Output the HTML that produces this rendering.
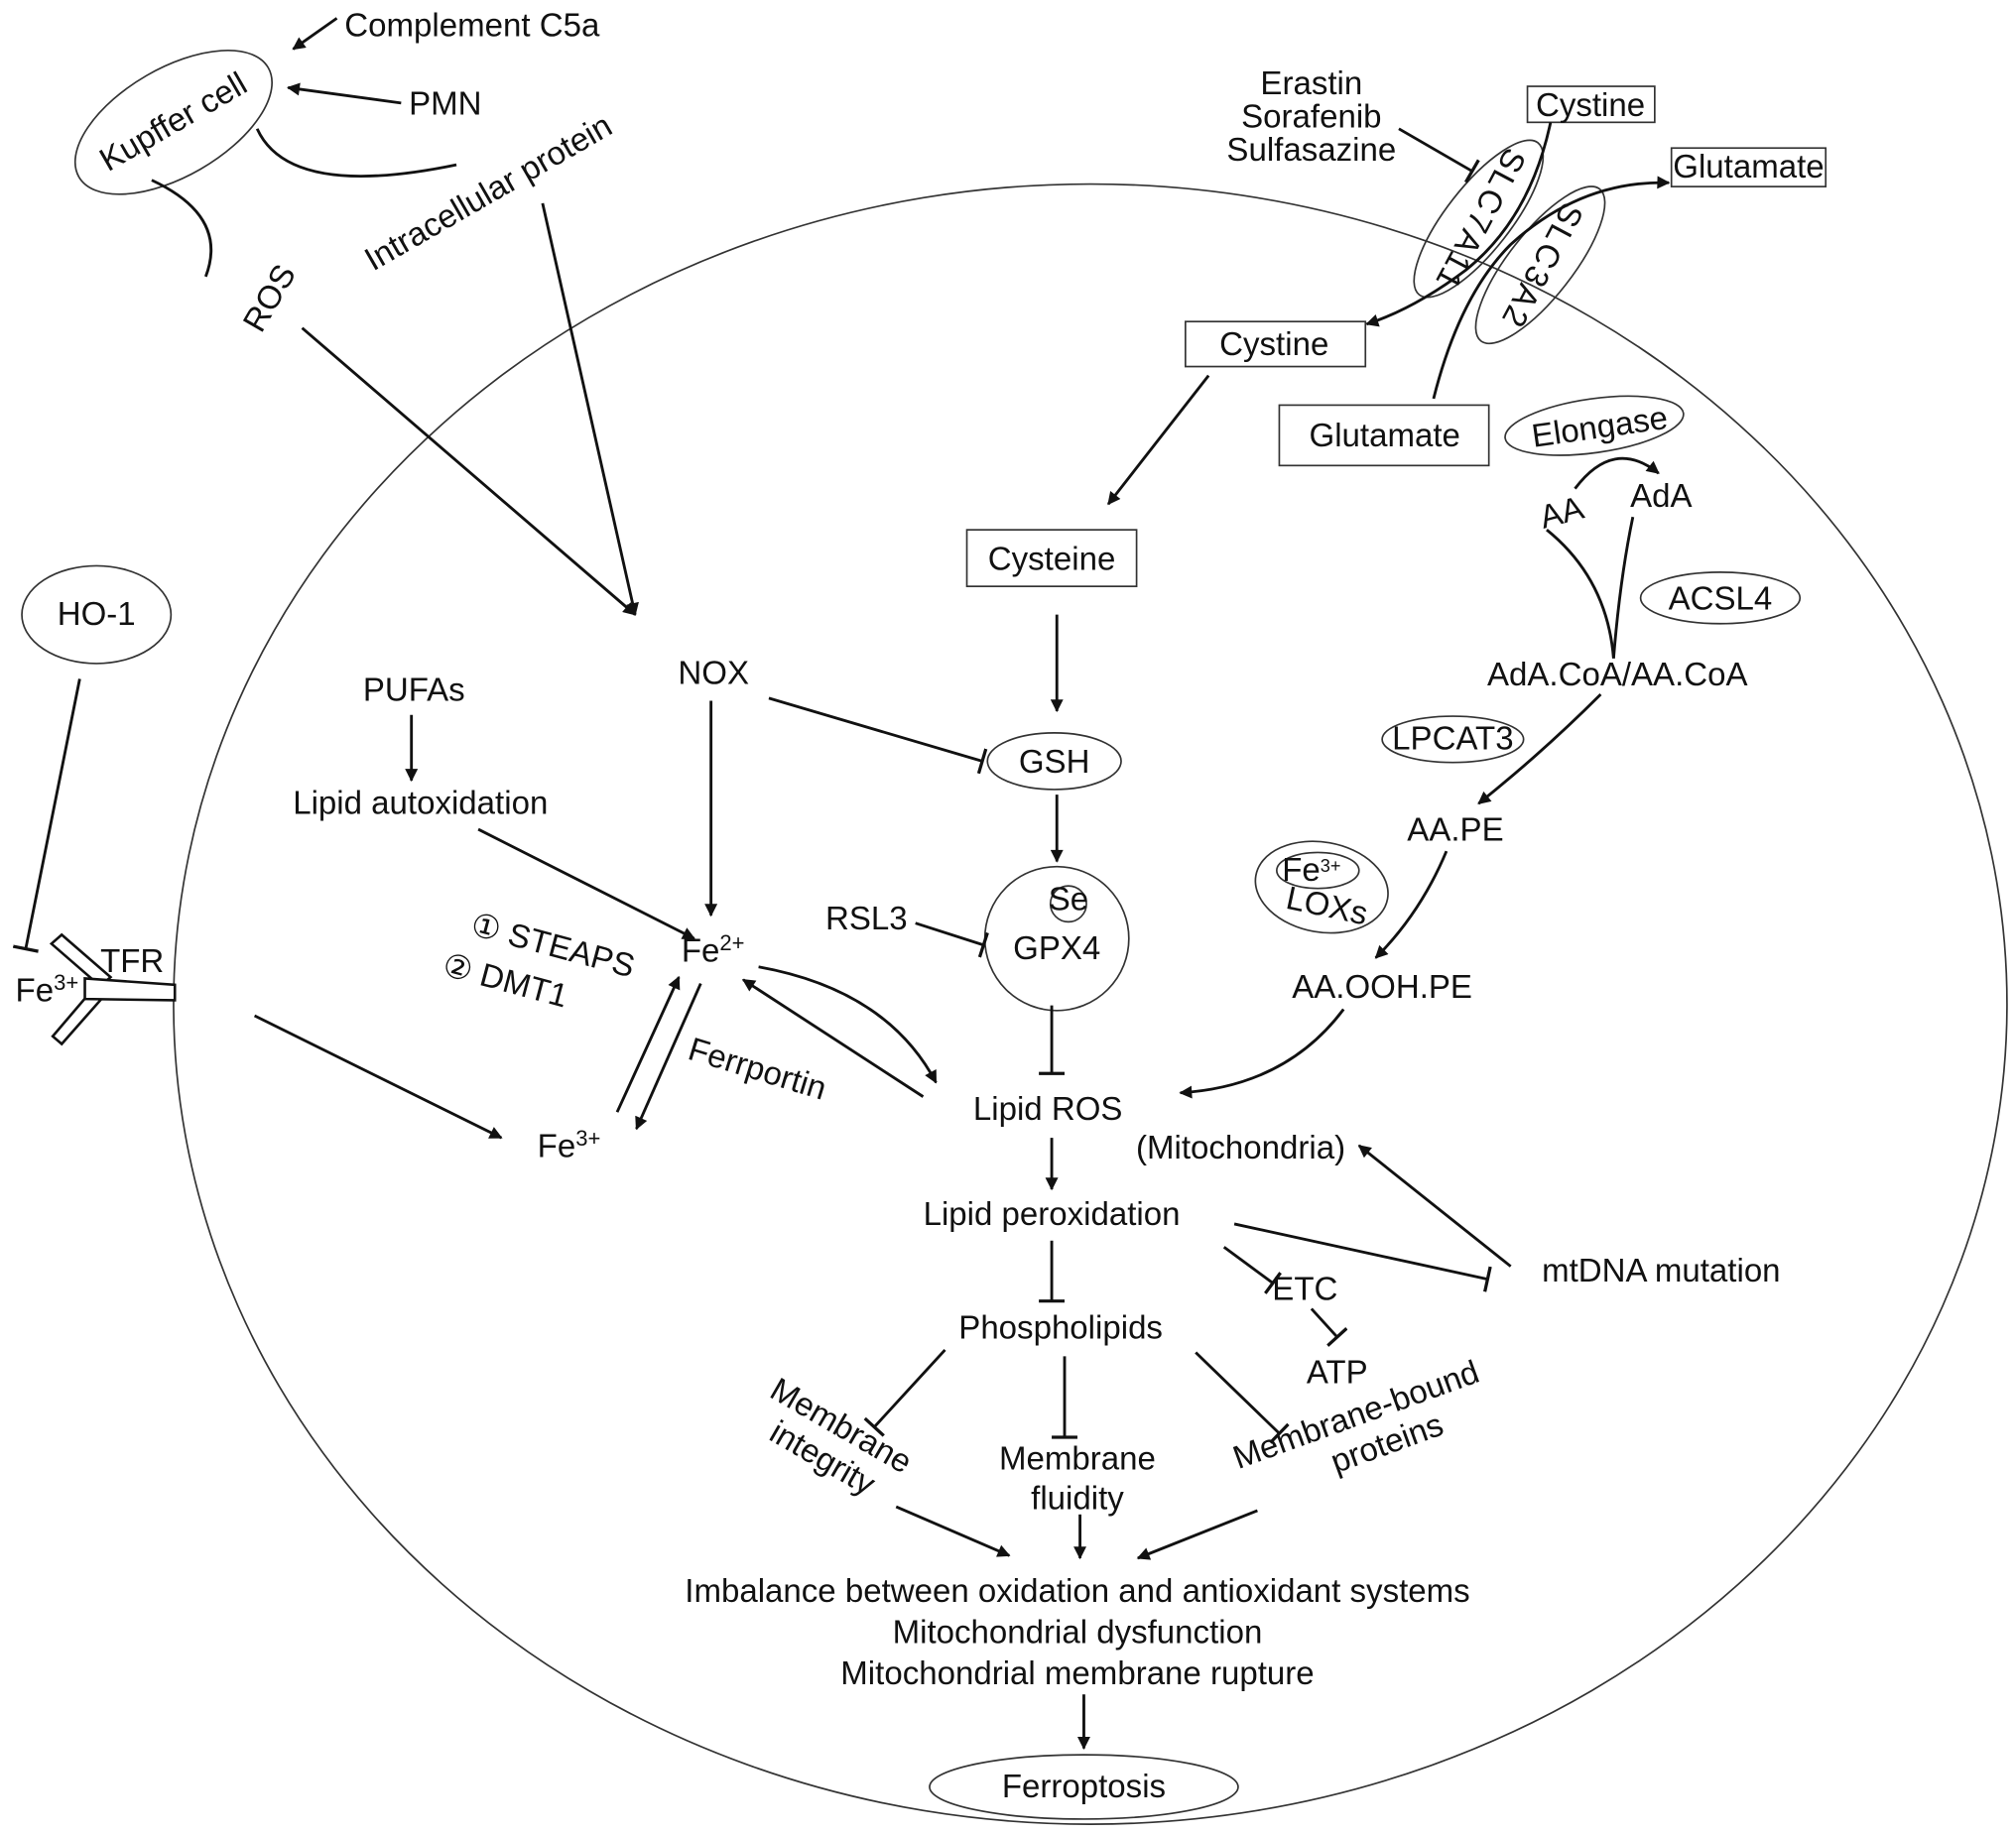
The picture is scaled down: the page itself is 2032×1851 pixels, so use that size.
<!DOCTYPE html>
<html><head><meta charset="utf-8"><style>
html,body{margin:0;padding:0;background:#fff}
svg{display:block}
text{font-family:"Liberation Sans",Arial,sans-serif;font-size:25.5px;fill:#111}
</style></head><body>
<svg width="2032" height="1851" viewBox="0 0 1568 1428" xmlns="http://www.w3.org/2000/svg">
<defs>
<marker id="a" viewBox="0 0 10 10" refX="9" refY="5" markerWidth="11" markerHeight="10" orient="auto-start-reverse" markerUnits="userSpaceOnUse"><path d="M0,0 L10,5 L0,10 z" fill="#111"/></marker>
<marker id="t" viewBox="0 0 10 20" refX="5" refY="10" markerWidth="10" markerHeight="20" orient="auto" markerUnits="userSpaceOnUse"><path d="M5,0 L5,20" stroke="#111" stroke-width="2.5"/></marker>
</defs>
<g fill="none" stroke="#333" stroke-width="1.3">
<ellipse cx="848" cy="781" rx="713" ry="638"/>
<ellipse cx="135" cy="95" rx="85" ry="42" transform="rotate(-30 135 95)"/>
<ellipse cx="75" cy="478" rx="58" ry="38"/>
<ellipse cx="820" cy="592" rx="52" ry="22"/>
<circle cx="822" cy="730" r="56"/>
<circle cx="831" cy="703" r="14"/>
<ellipse cx="1150" cy="170" rx="75" ry="25" transform="rotate(-52 1150 170)"/>
<ellipse cx="1198" cy="206" rx="75" ry="25" transform="rotate(-52 1198 206)"/>
<ellipse cx="1240" cy="331" rx="70" ry="21" transform="rotate(-8 1240 331)"/>
<ellipse cx="1338" cy="465" rx="62" ry="20"/>
<ellipse cx="1130" cy="575" rx="55" ry="18"/>
<ellipse cx="1028" cy="690" rx="52" ry="35" transform="rotate(10 1028 690)"/>
<ellipse cx="1025" cy="677" rx="32" ry="14"/>
<ellipse cx="843" cy="1390" rx="120" ry="25"/>
<rect x="922" y="250" width="140" height="35"/>
<rect x="752" y="412" width="132" height="44"/>
<rect x="1188" y="67" width="99" height="28"/>
<rect x="1300" y="115" width="120" height="30"/>
<rect x="995" y="315" width="163" height="47"/>
</g>
<!-- TFR -->
<g fill="#fff" stroke="#111" stroke-width="2">
<path d="M40,734 L48,727 L86,760 L78,767 z"/>
<path d="M48,812 L41,806 L70,772 L78,778 z"/>
<path d="M66,761 L136,766 L136,778 L66,777 z"/>
</g>
<g fill="none" stroke="#111" stroke-width="2.2">
<line x1="262" y1="14" x2="228" y2="38" marker-end="url(#a)"/>
<line x1="312" y1="80" x2="224" y2="68" marker-end="url(#a)"/>
<path d="M200,100 Q225,155 355,128"/>
<path d="M118,140 Q178,168 160,215"/>
<line x1="235" y1="255" x2="494" y2="478" marker-end="url(#a)"/>
<line x1="422" y1="158" x2="494" y2="478" marker-end="url(#a)"/>
<line x1="553" y1="545" x2="553" y2="712" marker-end="url(#a)"/>
<line x1="598" y1="543" x2="764" y2="592" marker-end="url(#t)"/>
<line x1="62" y1="528" x2="20" y2="738" marker-end="url(#t)"/>
<line x1="198" y1="790" x2="390" y2="885" marker-end="url(#a)"/>
<line x1="320" y1="556" x2="320" y2="607" marker-end="url(#a)"/>
<line x1="372" y1="645" x2="540" y2="730" marker-end="url(#a)"/>
<line x1="480" y1="865" x2="528" y2="760" marker-end="url(#a)"/>
<line x1="545" y1="765" x2="495" y2="878" marker-end="url(#a)"/>
<path d="M590,752 Q690,770 728,842" marker-end="url(#a)"/>
<line x1="718" y1="853" x2="578" y2="762" marker-end="url(#a)"/>
<line x1="940" y1="292" x2="862" y2="392" marker-end="url(#a)"/>
<line x1="822" y1="478" x2="822" y2="553" marker-end="url(#a)"/>
<line x1="822" y1="618" x2="822" y2="670" marker-end="url(#a)"/>
<line x1="712" y1="718" x2="765" y2="735" marker-end="url(#t)"/>
<line x1="818" y1="782" x2="818" y2="835" marker-end="url(#t)"/>
<line x1="818" y1="885" x2="818" y2="925" marker-end="url(#a)"/>
<line x1="818" y1="965" x2="818" y2="1012" marker-end="url(#t)"/>
<line x1="1175" y1="985" x2="1057" y2="891" marker-end="url(#a)"/>
<line x1="960" y1="952" x2="1157" y2="995" marker-end="url(#t)"/>
<line x1="952" y1="970" x2="990" y2="998" marker-end="url(#t)"/>
<line x1="1020" y1="1018" x2="1040" y2="1040" marker-end="url(#t)"/>
<line x1="735" y1="1050" x2="680" y2="1110" marker-end="url(#t)"/>
<line x1="828" y1="1055" x2="828" y2="1118" marker-end="url(#t)"/>
<line x1="930" y1="1052" x2="995" y2="1115" marker-end="url(#t)"/>
<line x1="697" y1="1172" x2="785" y2="1210" marker-end="url(#a)"/>
<line x1="840" y1="1178" x2="840" y2="1212" marker-end="url(#a)"/>
<line x1="978" y1="1175" x2="885" y2="1212" marker-end="url(#a)"/>
<line x1="843" y1="1318" x2="843" y2="1360" marker-end="url(#a)"/>
<line x1="1088" y1="100" x2="1145" y2="133" marker-end="url(#t)"/>
<path d="M1206,95 Q1190,170 1140,210 Q1100,240 1063,252" marker-end="url(#a)"/>
<path d="M1115,310 Q1135,230 1175,190 Q1230,140 1298,142" marker-end="url(#a)"/>
<path d="M1225,380 Q1255,340 1290,368" marker-end="url(#a)"/>
<path d="M1203,412 Q1250,450 1255,512"/>
<path d="M1270,402 Q1260,450 1255,512"/>
<path d="M1245,540 Q1200,585 1150,625" marker-end="url(#a)"/>
<path d="M1125,662 Q1105,710 1070,745" marker-end="url(#a)"/>
<path d="M1045,785 Q1000,845 918,850" marker-end="url(#a)"/>
</g>
<text x="268" y="28">Complement C5a</text>
<text x="318" y="89">PMN</text>
<text x="135" y="103" text-anchor="middle" transform="rotate(-30 135 95)">Kupffer cell</text>
<text x="380" y="158" text-anchor="middle" transform="rotate(-30 380 150)">Intracellular protein</text>
<text x="210" y="240" text-anchor="middle" transform="rotate(-60 210 232)">ROS</text>
<text x="75" y="486" text-anchor="middle">HO-1</text>
<text x="12" y="779">Fe<tspan font-size="17" dy="-9">3+</tspan></text>
<text x="78" y="756" font-size="28">TFR</text>
<text x="555" y="532" text-anchor="middle">NOX</text>
<text x="322" y="545" text-anchor="middle">PUFAs</text>
<text x="327" y="633" text-anchor="middle">Lipid autoxidation</text>
<text x="530" y="748">Fe<tspan font-size="17" dy="-9">2+</tspan></text>
<text x="358" y="742" transform="rotate(15 420 760)">① STEAPS</text>
<text x="345" y="778" transform="rotate(15 420 760)">② DMT1</text>
<text x="528" y="838" transform="rotate(17 580 850)">Ferrportin</text>
<text x="418" y="900">Fe<tspan font-size="17" dy="-9">3+</tspan></text>
<text x="991" y="276" text-anchor="middle">Cystine</text>
<text x="818" y="443" text-anchor="middle">Cysteine</text>
<text x="820" y="601" text-anchor="middle">GSH</text>
<text x="831" y="708" text-anchor="middle" font-size="15">Se</text>
<text x="822" y="746" text-anchor="middle">GPX4</text>
<text x="642" y="723">RSL3</text>
<text x="815" y="871" text-anchor="middle">Lipid ROS</text>
<text x="965" y="901" text-anchor="middle">(Mitochondria)</text>
<text x="818" y="953" text-anchor="middle">Lipid peroxidation</text>
<text x="1292" y="997" text-anchor="middle">mtDNA mutation</text>
<text x="1015" y="1011" text-anchor="middle">ETC</text>
<text x="1040" y="1076" text-anchor="middle">ATP</text>
<text x="825" y="1041" text-anchor="middle">Phospholipids</text>
<g transform="rotate(30 645 1125)"><text x="645" y="1115" text-anchor="middle">Membrane</text><text x="645" y="1144" text-anchor="middle">integrity</text></g>
<text x="838" y="1143" text-anchor="middle">Membrane</text>
<text x="838" y="1174" text-anchor="middle">fluidity</text>
<g transform="rotate(-20 1060 1115)"><text x="1060" y="1108" text-anchor="middle">Membrane-bound</text><text x="1075" y="1137" text-anchor="middle">proteins</text></g>
<text x="838" y="1246" text-anchor="middle">Imbalance between oxidation and antioxidant systems</text>
<text x="838" y="1278" text-anchor="middle">Mitochondrial dysfunction</text>
<text x="838" y="1310" text-anchor="middle">Mitochondrial membrane rupture</text>
<text x="843" y="1398" text-anchor="middle">Ferroptosis</text>
<text x="1020" y="73" text-anchor="middle">Erastin</text>
<text x="1020" y="99" text-anchor="middle">Sorafenib</text>
<text x="1020" y="125" text-anchor="middle">Sulfasazine</text>
<text x="1237" y="90" text-anchor="middle">Cystine</text>
<text x="1360" y="138" text-anchor="middle">Glutamate</text>
<text x="1077" y="347" text-anchor="middle">Glutamate</text>
<text x="1150" y="177" text-anchor="middle" font-size="19" letter-spacing="2" transform="rotate(118 1150 170)">SLC7A11</text>
<text x="1198" y="213" text-anchor="middle" font-size="19" letter-spacing="2" transform="rotate(118 1198 206)">SLC3A2</text>
<text x="1244" y="341" text-anchor="middle" font-size="27" transform="rotate(-8 1240 331)">Elongase</text>
<text x="1215" y="407" text-anchor="middle" transform="rotate(-15 1215 400)">AA</text>
<text x="1292" y="394" text-anchor="middle">AdA</text>
<text x="1338" y="474" text-anchor="middle">ACSL4</text>
<text x="1258" y="533" text-anchor="middle">AdA.CoA/AA.CoA</text>
<text x="1130" y="583" text-anchor="middle">LPCAT3</text>
<text x="1132" y="654" text-anchor="middle" font-size="29">AA.PE</text>
<text x="1020" y="685" text-anchor="middle" font-size="20">Fe<tspan font-size="14" dy="-7">3+</tspan></text>
<text x="1032" y="713" text-anchor="middle" transform="rotate(12 1032 705)">LOXs</text>
<text x="1075" y="776" text-anchor="middle">AA.OOH.PE</text>
</svg>
</body></html>
